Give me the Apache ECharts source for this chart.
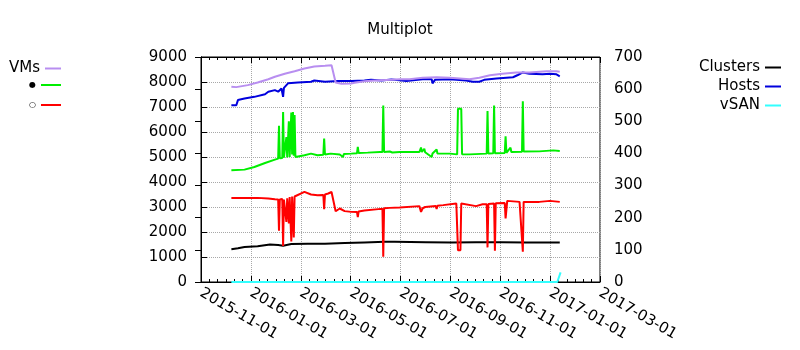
<!DOCTYPE html>
<html><head><meta charset="utf-8">
<script src="https://cdn.jsdelivr.net/npm/echarts@6/dist/echarts.min.js"></script>
<style>html,body{margin:0;padding:0;background:#fff}#c{width:800px;height:350px}#dbg{position:absolute;left:2px;top:2px;font:8px sans-serif;color:#888;width:790px}</style>
</head><body><div id="c"></div><div id="dbg"></div>
<script>
// ---- data ----
const titleText = 'Multiplot';
const xStart = '2015-11-01';
const xTickLabels = ['2015-11-01','2016-01-01','2016-03-01','2016-05-01','2016-07-01','2016-09-01','2016-11-01','2017-01-01','2017-03-01'];
const leftTicks = {min: 0, max: 9000, step: 1000};
const rightTicks = {min: 0, max: 700, step: 100};
const seriesNames = ['VMs', '●', '○', 'Clusters', 'Hosts', 'vSAN'];

const vms = [
 ['2015-12-08',7810],['2015-12-14',7795],['2015-12-28',7875],['2016-01-09',7980],['2016-01-22',8110],
 ['2016-01-30',8210],['2016-02-11',8330],['2016-02-23',8430],['2016-03-06',8540],['2016-03-18',8620],
 ['2016-03-31',8650],['2016-04-08',8670],['2016-04-13',7980],['2016-04-20',7930],['2016-05-02',7940],
 ['2016-05-06',7970],['2016-05-18',8030],['2016-05-31',8060],['2016-06-20',8090],['2016-06-30',8110],
 ['2016-07-12',8110],['2016-07-28',8170],['2016-08-14',8190],['2016-08-30',8170],['2016-09-23',8110],
 ['2016-10-05',8170],['2016-10-18',8270],['2016-11-02',8330],['2016-11-19',8380],['2016-12-05',8380],
 ['2016-12-26',8430],['2017-01-07',8430],['2017-01-11',8410]
];
const green = [
 ['2015-12-08',4470],['2015-12-24',4495],['2016-01-05',4600],['2016-01-18',4760],['2016-01-30',4895],
 ['2016-02-03',4935],['2016-02-04',6250],['2016-02-05',4950],['2016-02-08',4960],['2016-02-09',6800],
 ['2016-02-10',4970],['2016-02-12',4980],['2016-02-13',5800],['2016-02-14',4980],['2016-02-15',4990],
 ['2016-02-16',6430],['2016-02-17',5000],['2016-02-18',5000],['2016-02-19',6780],['2016-02-20',5100],
 ['2016-02-21',6800],['2016-02-22',5050],['2016-02-23',6680],['2016-02-24',5000],['2016-02-25',4980],
 ['2016-03-06',5070],['2016-03-14',5135],['2016-03-22',5070],['2016-03-29',5090],['2016-03-30',5735],
 ['2016-03-31',5100],['2016-04-07',5135],['2016-04-18',5100],['2016-04-20',5070],['2016-04-22',5000],
 ['2016-04-23',5120],['2016-05-02',5135],['2016-05-09',5150],['2016-05-10',5400],['2016-05-11',5160],
 ['2016-05-22',5175],['2016-06-06',5200],['2016-06-09',5200],['2016-06-10',7060],['2016-06-11',5200],
 ['2016-06-18',5220],['2016-06-20',5300],['2016-06-21',5180],['2016-06-30',5200],['2016-07-24',5200],
 ['2016-07-26',5380],['2016-07-27',5200],['2016-07-30',5330],['2016-07-31',5190],['2016-08-08',5000],
 ['2016-08-09',5140],['2016-08-14',5300],['2016-08-15',5140],['2016-08-30',5135],['2016-09-08',5105],
 ['2016-09-09',6930],['2016-09-13',6930],['2016-09-14',5110],['2016-09-23',5105],['2016-10-14',5135],
 ['2016-10-15',6840],['2016-10-16',5140],['2016-10-22',5150],['2016-10-23',7060],['2016-10-24',5150],
 ['2016-11-05',5160],['2016-11-06',5830],['2016-11-07',5170],['2016-11-12',5375],['2016-11-13',5200],
 ['2016-11-26',5210],['2016-11-27',7230],['2016-11-28',5220],['2016-12-17',5225],['2017-01-03',5265],
 ['2017-01-11',5240]
];
const red = [
 ['2015-12-08',3365],['2016-01-09',3365],['2016-01-22',3340],['2016-01-30',3310],['2016-02-03',3300],
 ['2016-02-04',2050],['2016-02-05',3300],['2016-02-08',3320],['2016-02-09',1440],['2016-02-10',3300],
 ['2016-02-12',3350],['2016-02-13',2400],['2016-02-14',3350],['2016-02-15',3380],['2016-02-16',2340],
 ['2016-02-17',3400],['2016-02-19',1620],['2016-02-20',3420],['2016-02-21',3450],['2016-02-22',1780],
 ['2016-02-23',3420],['2016-02-25',3470],['2016-03-06',3605],['2016-03-14',3500],['2016-03-22',3470],
 ['2016-03-29',3480],['2016-03-30',2915],['2016-03-31',3500],['2016-04-04',3540],['2016-04-08',3600],
 ['2016-04-13',2830],['2016-04-18',2940],['2016-04-24',2835],['2016-05-02',2805],['2016-05-09',2800],
 ['2016-05-10',2600],['2016-05-11',2820],['2016-05-18',2860],['2016-06-04',2915],['2016-06-09',2930],
 ['2016-06-10',1010],['2016-06-11',2950],['2016-06-18',2965],['2016-06-30',2980],['2016-07-24',3035],
 ['2016-07-26',2805],['2016-07-28',2950],['2016-07-30',2900],['2016-07-31',3000],['2016-08-13',3040],
 ['2016-08-14',2920],['2016-08-15',3050],['2016-08-22',3075],['2016-09-07',3140],['2016-09-09',1275],
 ['2016-09-12',1275],['2016-09-13',3140],['2016-10-01',3035],['2016-10-09',3110],['2016-10-14',3110],
 ['2016-10-15',1385],['2016-10-16',3120],['2016-10-23',3140],['2016-10-24',1250],['2016-10-25',3150],
 ['2016-11-05',3160],['2016-11-06',2540],['2016-11-08',3245],['2016-11-23',3205],['2016-11-27',1210],
 ['2016-11-28',3205],['2016-12-17',3205],['2016-12-30',3245],['2017-01-11',3205]
];
const clusters = [
 ['2015-12-08',102],['2015-12-16',105],['2015-12-24',109],['2016-01-09',111],['2016-01-24',117],
 ['2016-02-03',115],['2016-02-09',113],['2016-02-19',118],['2016-03-10',119],['2016-03-31',119],
 ['2016-04-24',121],['2016-05-18',123],['2016-06-12',125],['2016-06-24',125],['2016-08-01',124],
 ['2016-09-01',123],['2016-10-01',124],['2016-11-01',124],['2016-12-01',123],['2017-01-11',123]
];
const hosts = [
 ['2015-12-08',550],['2015-12-14',550],['2015-12-16',566],['2015-12-24',571],['2016-01-05',576],
 ['2016-01-18',584],['2016-01-22',592],['2016-01-30',597],['2016-02-03',592],['2016-02-07',602],
 ['2016-02-09',576],['2016-02-10',604],['2016-02-11',608],['2016-02-15',618],['2016-02-17',621],
 ['2016-02-27',621],['2016-03-14',623],['2016-03-18',627],['2016-03-19',623],['2016-03-31',623],
 ['2016-04-16',625],['2016-05-02',625],['2016-05-18',627],['2016-05-26',629],['2016-06-08',627],
 ['2016-06-20',630],['2016-06-30',628],['2016-07-08',625],['2016-07-10',631],['2016-07-28',631],
 ['2016-08-08',631],['2016-08-09',618],['2016-08-12',629],['2016-08-30',631],['2016-09-19',627],
 ['2016-09-27',623],['2016-10-05',623],['2016-10-11',629],['2016-10-26',633],['2016-11-15',637],
 ['2016-11-21',644],['2016-11-27',652],['2016-12-05',648],['2016-12-21',646],['2016-12-30',648],
 ['2017-01-07',646],['2017-01-11',640]
];
const vsan = [
 ['2015-12-08',0],['2016-06-01',0],['2017-01-08',0],['2017-01-12',30]
];

// ---- chart ----
const FONT = 'DejaVu Sans';
const colors = {VMs:'#b88ef0', '●':'#00ee00', '○':'#ff0000', Clusters:'#000000', Hosts:'#0000dd', vSAN:'#33ffff'};
const DAY = 86400000;
function utc(s) { const p = s.split('-').map(Number); return Date.UTC(p[0], p[1] - 1, p[2]); }
function dayOf(s) { return (utc(s) - utc(xStart)) / DAY; }
const xMaxDay = dayOf(xTickLabels[xTickLabels.length - 1]);
const xStep = xMaxDay / (xTickLabels.length - 1);

function mkLegend(name, right, top, fontSize, gap) {
  return {
    data: [name], right: right, top: top, orient: 'vertical', align: 'right',
    icon: 'rect', itemWidth: 11 + (gap || 5), itemHeight: 2, itemGap: 0, padding: 0,
    selectedMode: false,
    textStyle: {fontFamily: FONT, fontSize: fontSize || 15, color: '#000'}
  };
}
function line(name, data, yIdx, xIdx) {
  return {
    name: name, type: 'line', data: data.map(d => [dayOf(d[0]), d[1]]),
    yAxisIndex: yIdx, xAxisIndex: xIdx || 0,
    showSymbol: false, symbol: 'none',
    lineStyle: {width: 2, color: colors[name]}, itemStyle: {color: colors[name]}
  };
}
function xAx(pos) {
  const bottom = pos === 'bottom';
  return {
    type: 'value', min: 0, max: xMaxDay, interval: xStep, position: pos,
    axisLine: {show: true, onZero: false, lineStyle: {color: '#000'}},
    axisTick: {show: true, inside: true, length: 6, lineStyle: {color: '#000', width: 1}},
    minorTick: {show: true, splitNumber: 6, length: 3, lineStyle: {color: '#000', width: 1}},
    splitLine: {show: bottom, lineStyle: {color: '#a8a8a8', type: 'dotted', width: 1}},
    axisLabel: bottom ? {
      formatter: v => xTickLabels[Math.round(v / xStep)] || '',
      rotate: -30, margin: 10, fontFamily: FONT, fontSize: 15, color: '#000'
    } : {show: false}
  };
}
function yAx(pos, t, grid) {
  return {
    type: 'value', min: t.min, max: t.max, interval: t.step, position: pos,
    axisLine: {show: true, lineStyle: {color: '#000'}},
    axisTick: {show: true, inside: true, length: 6, lineStyle: {color: '#000', width: 1}},
    splitLine: {show: grid, lineStyle: {color: '#a8a8a8', type: 'dotted', width: 1}},
    axisLabel: {margin: 14, fontFamily: FONT, fontSize: 15, color: '#000', formatter: v => String(v)}
  };
}
const option = {
  animation: false,
  title: {text: titleText, left: 'center', top: 18, textStyle: {fontFamily: FONT, fontSize: 15, fontWeight: 'normal', color: '#000'}},
  legend: [
    mkLegend('VMs', 739, 61), mkLegend('●', 739, 81, 8, 9), mkLegend('○', 739, 101, 8, 9),
    mkLegend('Clusters', 19, 60), mkLegend('Hosts', 19, 79), mkLegend('vSAN', 19, 98)
  ],
  grid: {left: 201, right: 200, top: 57, bottom: 68, show: true, borderColor: '#000', borderWidth: 1},
  xAxis: [xAx('bottom'), xAx('top')],
  yAxis: [yAx('left', leftTicks, true), yAx('right', rightTicks, false)],
  series: [
    line('vSAN', vsan, 1, 1),
    line('Clusters', clusters, 1),
    line('○', red, 0),
    line('●', green, 0),
    line('Hosts', hosts, 1),
    line('VMs', vms, 0)
  ]
};
const chart = echarts.init(document.getElementById('c'), null, {renderer: 'canvas'});
let err = '';
try { chart.setOption(option); } catch (e) { err = 'ERR ' + e.message + ' | ' + String(e.stack || '').split('\n').slice(0, 4).join(' | '); }
try {
  const list = chart.getZr().storage.getDisplayList(true);
  let nl = 0;
  list.forEach(el => { if (el.type === 'line') nl++; });
  if (err || nl < 30) document.getElementById('dbg').textContent = err + ' lines=' + nl + ' n=' + list.length;
} catch (e) { document.getElementById('dbg').textContent = 'ERR2 ' + e.message; }
</script></body></html>
